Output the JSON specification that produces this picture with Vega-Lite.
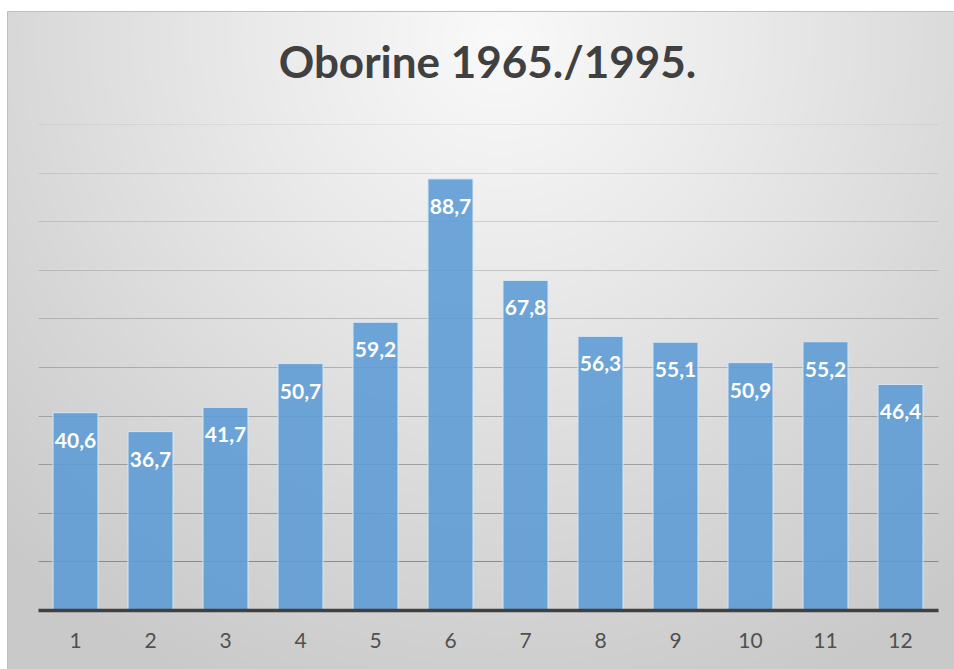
{
  "$schema": "https://vega.github.io/schema/vega-lite/v6.json",
  "width": 947,
  "height": 658,
  "autosize": {"type": "none"},
  "padding": {"left": 7, "top": 11, "right": 0, "bottom": 0},
  "background": "#ffffff",
  "title": {
    "text": "Oborine 1965./1995.",
    "font": "Lato",
    "fontSize": 44,
    "fontWeight": "bold",
    "color": "#404040",
    "anchor": "middle",
    "baseline": "alphabetic",
    "offset": -111,
    "dx": 7
  },
  "config": {
    "locale": {"number": {"decimal": ",", "thousands": ".", "grouping": [3], "currency": ["", " €"]}},
    "view": {
      "stroke": "#bfbfbf",
      "fill": {
        "gradient": "radial",
        "x1": 0.52, "y1": 0.18, "r1": 0,
        "x2": 0.52, "y2": 0.18, "r2": 0.75,
        "stops": [
          {"offset": 0, "color": "#f9f9f9"},
          {"offset": 0.35, "color": "#e9e9e9"},
          {"offset": 0.7, "color": "#d7d7d7"},
          {"offset": 1, "color": "#c9c9c9"}
        ]
      }
    }
  },
  "data": {
    "values": [
      {"mjesec": 1, "oborine": 40.6},
      {"mjesec": 2, "oborine": 36.7},
      {"mjesec": 3, "oborine": 41.7},
      {"mjesec": 4, "oborine": 50.7},
      {"mjesec": 5, "oborine": 59.2},
      {"mjesec": 6, "oborine": 88.7},
      {"mjesec": 7, "oborine": 67.8},
      {"mjesec": 8, "oborine": 56.3},
      {"mjesec": 9, "oborine": 55.1},
      {"mjesec": 10, "oborine": 50.9},
      {"mjesec": 11, "oborine": 55.2},
      {"mjesec": 12, "oborine": 46.4}
    ]
  },
  "encoding": {
    "x": {
      "field": "mjesec",
      "type": "ordinal",
      "scale": {"range": [31, 931], "paddingInner": 0.4, "paddingOuter": 0.2},
      "axis": {
        "title": null,
        "labelAngle": 0,
        "labelFont": "Lato",
        "labelFontSize": 21,
        "labelColor": "#505050",
        "labelBaseline": "middle",
        "labelPadding": 31,
        "ticks": false,
        "domainColor": "#404040",
        "domainWidth": 3.5,
        "grid": false,
        "offset": -59,
        "zindex": 1
      }
    },
    "y": {
      "field": "oborine",
      "type": "quantitative",
      "scale": {"domain": [0, 100], "range": [599, 113], "nice": false, "zero": true},
      "axis": {
        "title": null,
        "labels": false,
        "ticks": false,
        "domain": false,
        "grid": true,
        "values": [10, 20, 30, 40, 50, 60, 70, 80, 90, 100],
        "gridColor": "#7f7f7f",
        "gridWidth": 1,
        "gridOpacity": {
          "condition": [
            {"test": "datum.value >= 100", "value": 0.12},
            {"test": "datum.value >= 90", "value": 0.2},
            {"test": "datum.value >= 80", "value": 0.28},
            {"test": "datum.value >= 70", "value": 0.35},
            {"test": "datum.value >= 60", "value": 0.42},
            {"test": "datum.value >= 50", "value": 0.5},
            {"test": "datum.value >= 40", "value": 0.58},
            {"test": "datum.value >= 30", "value": 0.66},
            {"test": "datum.value >= 20", "value": 0.75}
          ],
          "value": 0.85
        }
      }
    }
  },
  "layer": [
    {
      "mark": {
        "type": "bar",
        "fill": "#5b9bd5",
        "fillOpacity": 0.88,
        "stroke": "#d6e6f5",
        "strokeWidth": 1
      }
    },
    {
      "mark": {
        "type": "text",
        "baseline": "middle",
        "dy": 29,
        "color": "#ffffff",
        "font": "Lato",
        "fontSize": 21,
        "fontWeight": "bold"
      },
      "encoding": {
        "text": {"field": "oborine", "type": "quantitative", "format": ".1f"}
      }
    }
  ]
}
